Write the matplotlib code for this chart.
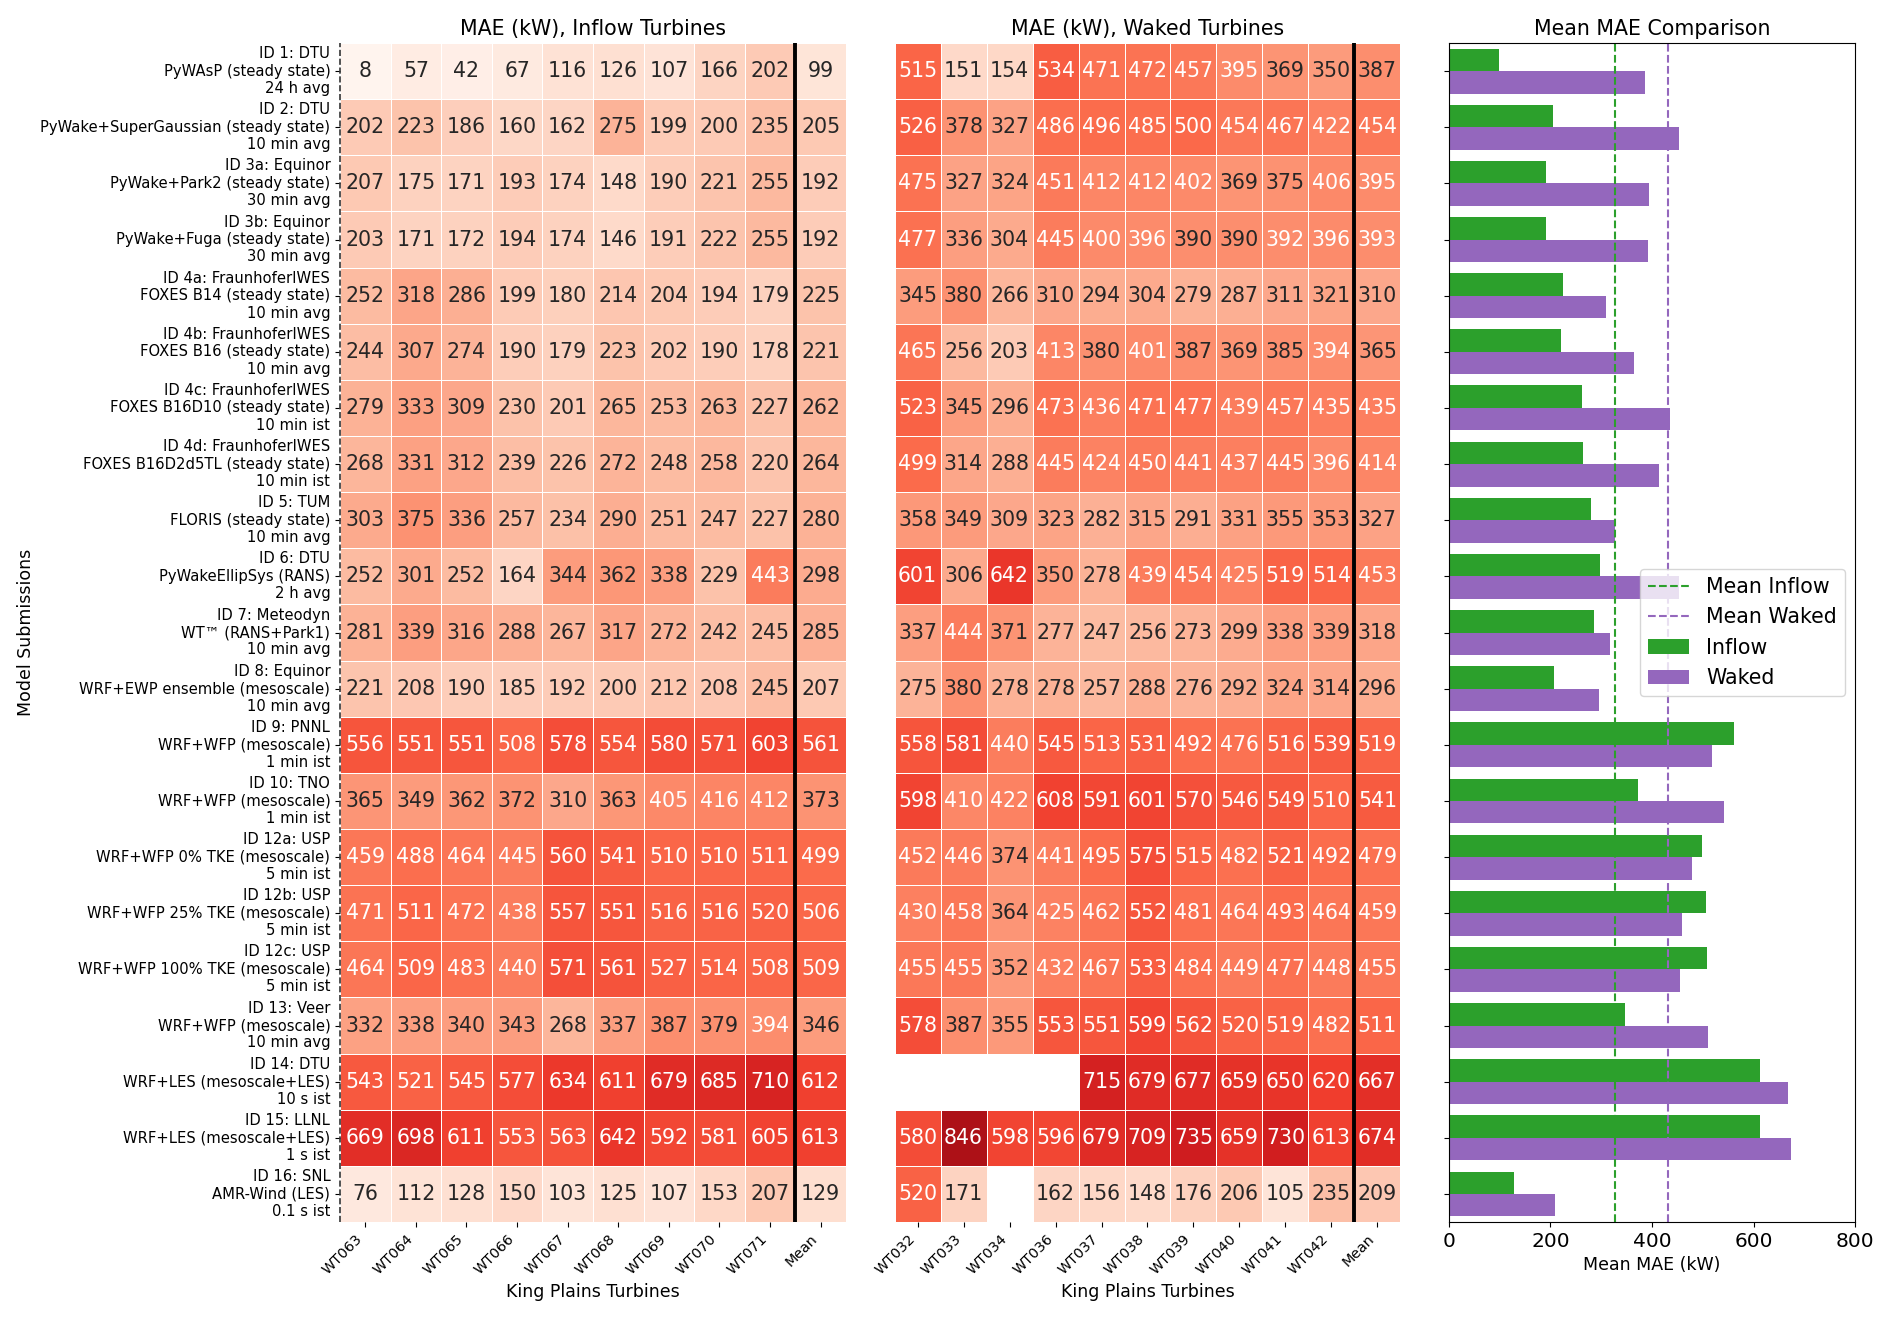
import numpy as np
import pandas as pd
import matplotlib
matplotlib.use("Agg")
import matplotlib.pyplot as plt
import seaborn as sns

models = [
    "ID 1: DTU\nPyWAsP (steady state)\n24 h avg",
    "ID 2: DTU\nPyWake+SuperGaussian (steady state)\n10 min avg",
    "ID 3a: Equinor\nPyWake+Park2 (steady state)\n30 min avg",
    "ID 3b: Equinor\nPyWake+Fuga (steady state)\n30 min avg",
    "ID 4a: FraunhoferIWES\nFOXES B14 (steady state)\n10 min avg",
    "ID 4b: FraunhoferIWES\nFOXES B16 (steady state)\n10 min avg",
    "ID 4c: FraunhoferIWES\nFOXES B16D10 (steady state)\n10 min ist",
    "ID 4d: FraunhoferIWES\nFOXES B16D2d5TL (steady state)\n10 min ist",
    "ID 5: TUM\nFLORIS (steady state)\n10 min avg",
    "ID 6: DTU\nPyWakeEllipSys (RANS)\n2 h avg",
    "ID 7: Meteodyn\nWT\u2122 (RANS+Park1)\n10 min avg",
    "ID 8: Equinor\nWRF+EWP ensemble (mesoscale)\n10 min avg",
    "ID 9: PNNL\nWRF+WFP (mesoscale)\n1 min ist",
    "ID 10: TNO\nWRF+WFP (mesoscale)\n1 min ist",
    "ID 12a: USP\nWRF+WFP 0% TKE (mesoscale)\n5 min ist",
    "ID 12b: USP\nWRF+WFP 25% TKE (mesoscale)\n5 min ist",
    "ID 12c: USP\nWRF+WFP 100% TKE (mesoscale)\n5 min ist",
    "ID 13: Veer\nWRF+WFP (mesoscale)\n10 min avg",
    "ID 14: DTU\nWRF+LES (mesoscale+LES)\n10 s ist",
    "ID 15: LLNL\nWRF+LES (mesoscale+LES)\n1 s ist",
    "ID 16: SNL\nAMR-Wind (LES)\n0.1 s ist",
]

inflow_cols = ["WT063", "WT064", "WT065", "WT066", "WT067", "WT068", "WT069", "WT070", "WT071", "Mean"]
waked_cols = ["WT032", "WT033", "WT034", "WT036", "WT037", "WT038", "WT039", "WT040", "WT041", "WT042", "Mean"]

inflow_values = [
    [8, 57, 42, 67, 116, 126, 107, 166, 202, 99],
    [202, 223, 186, 160, 162, 275, 199, 200, 235, 205],
    [207, 175, 171, 193, 174, 148, 190, 221, 255, 192],
    [203, 171, 172, 194, 174, 146, 191, 222, 255, 192],
    [252, 318, 286, 199, 180, 214, 204, 194, 179, 225],
    [244, 307, 274, 190, 179, 223, 202, 190, 178, 221],
    [279, 333, 309, 230, 201, 265, 253, 263, 227, 262],
    [268, 331, 312, 239, 226, 272, 248, 258, 220, 264],
    [303, 375, 336, 257, 234, 290, 251, 247, 227, 280],
    [252, 301, 252, 164, 344, 362, 338, 229, 443, 298],
    [281, 339, 316, 288, 267, 317, 272, 242, 245, 285],
    [221, 208, 190, 185, 192, 200, 212, 208, 245, 207],
    [556, 551, 551, 508, 578, 554, 580, 571, 603, 561],
    [365, 349, 362, 372, 310, 363, 405, 416, 412, 373],
    [459, 488, 464, 445, 560, 541, 510, 510, 511, 499],
    [471, 511, 472, 438, 557, 551, 516, 516, 520, 506],
    [464, 509, 483, 440, 571, 561, 527, 514, 508, 509],
    [332, 338, 340, 343, 268, 337, 387, 379, 394, 346],
    [543, 521, 545, 577, 634, 611, 679, 685, 710, 612],
    [669, 698, 611, 553, 563, 642, 592, 581, 605, 613],
    [76, 112, 128, 150, 103, 125, 107, 153, 207, 129],
]

nan = np.nan
waked_values = [
    [515, 151, 154, 534, 471, 472, 457, 395, 369, 350, 387],
    [526, 378, 327, 486, 496, 485, 500, 454, 467, 422, 454],
    [475, 327, 324, 451, 412, 412, 402, 369, 375, 406, 395],
    [477, 336, 304, 445, 400, 396, 390, 390, 392, 396, 393],
    [345, 380, 266, 310, 294, 304, 279, 287, 311, 321, 310],
    [465, 256, 203, 413, 380, 401, 387, 369, 385, 394, 365],
    [523, 345, 296, 473, 436, 471, 477, 439, 457, 435, 435],
    [499, 314, 288, 445, 424, 450, 441, 437, 445, 396, 414],
    [358, 349, 309, 323, 282, 315, 291, 331, 355, 353, 327],
    [601, 306, 642, 350, 278, 439, 454, 425, 519, 514, 453],
    [337, 444, 371, 277, 247, 256, 273, 299, 338, 339, 318],
    [275, 380, 278, 278, 257, 288, 276, 292, 324, 314, 296],
    [558, 581, 440, 545, 513, 531, 492, 476, 516, 539, 519],
    [598, 410, 422, 608, 591, 601, 570, 546, 549, 510, 541],
    [452, 446, 374, 441, 495, 575, 515, 482, 521, 492, 479],
    [430, 458, 364, 425, 462, 552, 481, 464, 493, 464, 459],
    [455, 455, 352, 432, 467, 533, 484, 449, 477, 448, 455],
    [578, 387, 355, 553, 551, 599, 562, 520, 519, 482, 511],
    [nan, nan, nan, nan, 715, 679, 677, 659, 650, 620, 667],
    [580, 846, 598, 596, 679, 709, 735, 659, 730, 613, 674],
    [520, 171, nan, 162, 156, 148, 176, 206, 105, 235, 209],
]

inflow_df = pd.DataFrame(inflow_values, index=models, columns=inflow_cols, dtype=float)
waked_df = pd.DataFrame(waked_values, index=models, columns=waked_cols, dtype=float)

inflow_mean = inflow_df["Mean"].values
waked_mean = waked_df["Mean"].values

VMIN, VMAX = 0, 1000
ANNOT = 14.8
TITLE = 14.8
LABEL = 12.5
TICK = 10.6
XTICK = 10.3

fig = plt.figure(figsize=(18.92, 13.23), dpi=100)
ax1 = fig.add_axes([0.1797, 0.0763, 0.2674, 0.8912])
ax2 = fig.add_axes([0.4728, 0.0763, 0.2674, 0.8912])
ax3 = fig.add_axes([0.7658, 0.0763, 0.2147, 0.8912])

sns.heatmap(inflow_df, ax=ax1, cmap="Reds", vmin=VMIN, vmax=VMAX, annot=True, fmt=".0f",
            annot_kws={"size": ANNOT}, cbar=False, linewidths=0.5, linecolor="white")
ax1.axvline(9, color="black", lw=2.8)
ax1.axvline(0, color="#333333", ls="--", lw=1.2, clip_on=False)
ax1.set_title("MAE (kW), Inflow Turbines", fontsize=TITLE)
ax1.set_xlabel("King Plains Turbines", fontsize=LABEL)
ax1.set_ylabel("Model Submissions", fontsize=LABEL)
ax1.set_yticklabels(models, rotation=0, fontsize=TICK)
ax1.set_xticklabels(inflow_cols, rotation=45, ha="right", fontsize=XTICK)

sns.heatmap(waked_df, ax=ax2, cmap="Reds", vmin=VMIN, vmax=VMAX, annot=True, fmt=".0f",
            annot_kws={"size": ANNOT}, cbar=False, linewidths=0.5, linecolor="white",
            yticklabels=False)
ax2.axvline(10, color="black", lw=2.8)
ax2.set_title("MAE (kW), Waked Turbines", fontsize=TITLE)
ax2.set_xlabel("King Plains Turbines", fontsize=LABEL)
ax2.set_ylabel("")
ax2.tick_params(axis="y", left=False)
ax2.set_xticklabels(waked_cols, rotation=45, ha="right", fontsize=XTICK)

y = np.arange(len(models))
ax3.barh(y - 0.2, inflow_mean, height=0.4, color="#2ca02c", label="Inflow")
ax3.barh(y + 0.2, waked_mean, height=0.4, color="#9467bd", label="Waked")
ax3.axvline(np.mean(inflow_mean), color="#2ca02c", ls="--", lw=1.5, label="Mean Inflow")
ax3.axvline(np.mean(waked_mean), color="#9467bd", ls="--", lw=1.5, label="Mean Waked")
ax3.set_yticks(y)
ax3.set_yticklabels([])
ax3.set_ylim(len(models) - 0.5, -0.5)
ax3.set_xlim(0, 800)
ax3.set_xticks([0, 200, 400, 600, 800])
ax3.tick_params(axis="x", labelsize=14.5)
ax3.set_xlabel("Mean MAE (kW)", fontsize=LABEL)
ax3.set_title("Mean MAE Comparison", fontsize=TITLE)
ax3.legend(loc="center right", fontsize=14.8)

fig.savefig("out.png", dpi=100)
